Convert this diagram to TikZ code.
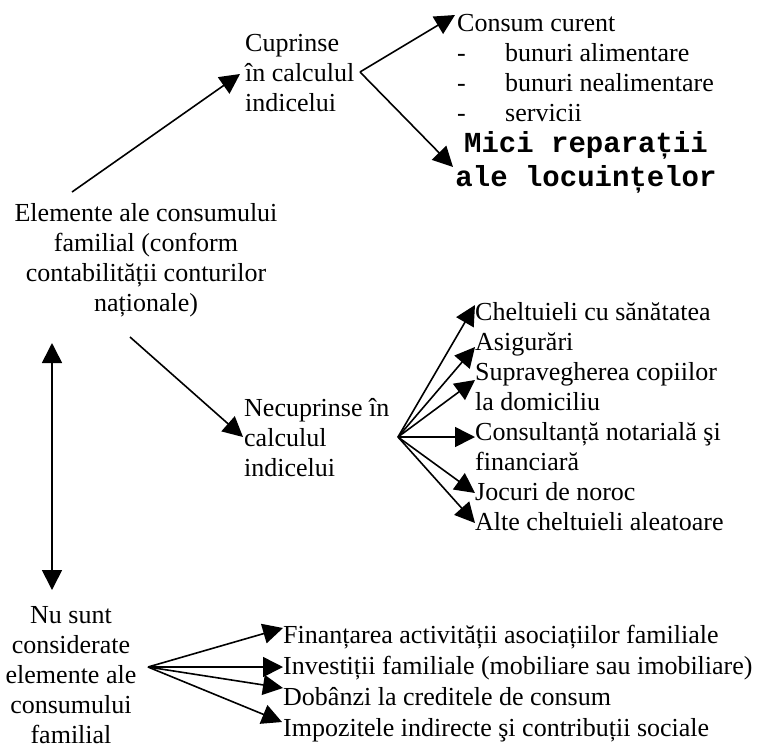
\documentclass[tikz,border=0pt]{standalone}
\usepackage{fontspec}
\setmainfont{Liberation Serif}
\setmonofont{Liberation Mono}
\usetikzlibrary{arrows.meta,calc}

\begin{document}
\begin{tikzpicture}[x=1pt,y=-1pt,
  txt/.style={inner sep=0pt, font=\fontsize{26}{30}\selectfont},
  lbl/.style={txt, anchor=base west, align=left},
  cbl/.style={txt, anchor=base, align=center},
  arr/.style={line width=1.6pt, -{Triangle[length=20pt,width=20pt]}},
  dblarr/.style={line width=1.6pt, {Triangle[length=20pt,width=20pt]}-{Triangle[length=20pt,width=20pt]}},
]
\useasboundingbox (0,0) rectangle (768,748);

% main node and the three groups it splits into
% (the base anchor of a multi-line node sits on its last line)
\node[cbl] (elem) at (146,311) {Elemente ale consumului\\familial (conform\\contabilității conturilor\\naționale)};
\node[lbl] (cupr) at (245,111) {Cuprinse\\în calculul\\indicelui};
\node[lbl] (necu) at (244,476) {Necuprinse în\\calculul\\indicelui};
\node[cbl] (nusunt) at (71,743) {Nu sunt\\considerate\\elemente ale\\consumului\\familial};

% items included in the index
\node[lbl] (consum) at (457,31) {Consum curent};
\node[lbl] (bunuri) at (457,121) {\makebox[48pt][l]{-}bunuri alimentare\\\makebox[48pt][l]{-}bunuri nealimentare\\\makebox[48pt][l]{-}servicii};
\node[txt, anchor=base, align=center, font=\fontsize{29}{34}\selectfont\ttfamily\bfseries] (mici) at (586,186) {Mici reparații\\ale locuințelor};

% items left out of the index
\node[lbl] (chel) at (475,320) {Cheltuieli cu sănătatea};
\node[lbl] (asig) at (475,350) {Asigurări};
\node[lbl] (supr) at (475,410) {Supravegherea copiilor\\la domiciliu};
\node[lbl] (cons) at (475,470) {Consultanță notarială şi\\financiară};
\node[lbl] (joc) at (475,500) {Jocuri de noroc};
\node[lbl] (alte) at (475,530) {Alte cheltuieli aleatoare};

% items that are not family consumption
\node[lbl] (fin) at (283,643) {Finanțarea activității asociațiilor familiale};
\node[lbl] (inv) at (283,674) {Investiții familiale (mobiliare sau imobiliare)};
\node[lbl] (dob) at (283,705) {Dobânzi la creditele de consum};
\node[lbl] (imp) at (283,736) {Impozitele indirecte şi contribuții sociale};

% fan points
\coordinate (ca) at ($(cupr.base west)+(115,-39)$);
\coordinate (na) at ($(necu.base west)+(154,-39)$);
\coordinate (ba) at ($(nusunt.base)+(77,-76)$);

% connectors from the main node
\draw[arr] ($(elem.base)+(-74,-119)$) -- ($(cupr.base west)+(-5,-37)$);
\draw[arr] ($(elem.base)+(-16,26)$) -- ($(necu.base west)+(-1,-39)$);
\draw[dblarr] ($(elem.base)+(-94,32)$) -- ($(nusunt.base)+(-19,-153)$);

% included
\draw[arr] (ca) -- ($(consum.base west)+(-2,-16)$);
\draw[arr] (ca) -- ($(mici.base)+(-133,-19)$);

% not included
\draw[arr] (na) -- ($(chel.base west)+(0,-15)$);
\draw[arr] (na) -- ($(asig.base west)+(0,-3)$);
\draw[arr] (na) -- ($(supr.base west)+(0,-30)$);
\draw[arr] (na) -- ($(cons.base west)+(0,-33)$);
\draw[arr] (na) -- ($(joc.base west)+(0,-7)$);
\draw[arr] (na) -- ($(alte.base west)+(0,-7)$);

% not family consumption
\draw[arr] (ba) -- ($(fin.base west)+(0,-15)$);
\draw[arr] (ba) -- ($(inv.base west)+(0,-7)$);
\draw[arr] (ba) -- ($(dob.base west)+(0,-17)$);
\draw[arr] (ba) -- ($(imp.base west)+(-1,-14)$);
\end{tikzpicture}
\end{document}
